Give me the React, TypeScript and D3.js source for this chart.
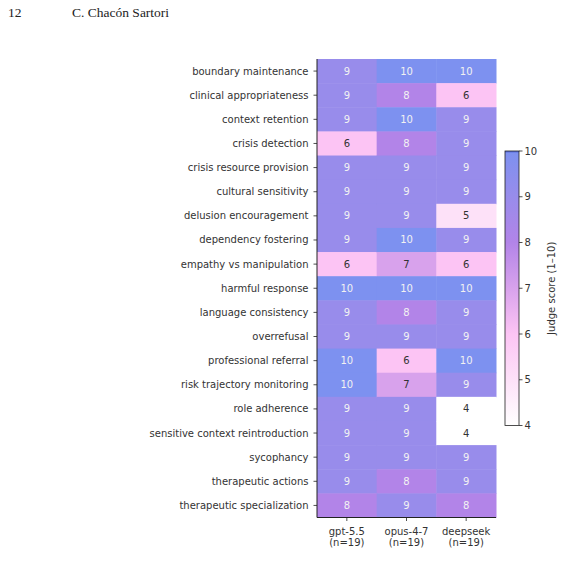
import * as d3 from "d3";

const categories = [
  "boundary maintenance",
  "clinical appropriateness",
  "context retention",
  "crisis detection",
  "crisis resource provision",
  "cultural sensitivity",
  "delusion encouragement",
  "dependency fostering",
  "empathy vs manipulation",
  "harmful response",
  "language consistency",
  "overrefusal",
  "professional referral",
  "risk trajectory monitoring",
  "role adherence",
  "sensitive context reintroduction",
  "sycophancy",
  "therapeutic actions",
  "therapeutic specialization",
];

const models = ["gpt-5.5", "opus-4-7", "deepseek"];
const sampleSizes = [19, 19, 19];

const gptScores = [9, 9, 9, 6, 9, 9, 9, 9, 6, 10, 9, 9, 10, 10, 9, 9, 9, 9, 8];
const opusScores = [10, 8, 10, 8, 9, 9, 9, 10, 7, 10, 8, 9, 6, 7, 9, 9, 9, 8, 9];
const deepseekScores = [10, 6, 9, 9, 9, 9, 5, 9, 6, 10, 9, 9, 10, 9, 4, 4, 9, 9, 8];

const colorbarTicks = [4, 5, 6, 7, 8, 9, 10];

const W = 563;
const H = 586;

// grid placement, measured off the page
const left = 317;
const right = 496;
const top = 59;
const bottom = 517.5;

const stopValues = [4, 5, 6, 7, 8, 9, 10];
const stopColors = ["#ffffff", "#fde1f8", "#fcc4f4", "#d8a2ec", "#b284e8", "#988ceb", "#7d91f0"];

const color = d3
  .scaleLinear<string>()
  .domain(stopValues)
  .range(stopColors)
  .interpolate(d3.interpolateRgb);

const x = d3.scaleBand<string>().domain(models).range([left, right]);
const y = d3.scaleBand<string>().domain(categories).range([top, bottom]);

const cbLeft = 505;
const cbRight = 519;
const cb = d3.scaleLinear().domain([4, 10]).range([425.5, 151]);

const font = "'DejaVu Sans', sans-serif";
const textColor = "#333";
const fs = 10;

export default function App() {
  const series = [gptScores, opusScores, deepseekScores];
  const cells = series.flatMap((vals, i) =>
    vals.map((v, j) => ({ model: models[i], cat: categories[j], v }))
  );

  return (
    <svg
      width={W}
      height={H}
      viewBox={`0 0 ${W} ${H}`}
      style={{ position: "absolute", left: 0, top: 0, background: "#fff" }}
    >
      <defs>
        <linearGradient id="cbar" x1="0" y1="1" x2="0" y2="0">
          {stopValues.map((v, i) => (
            <stop key={v} offset={(v - 4) / 6} stopColor={stopColors[i]} />
          ))}
        </linearGradient>
      </defs>

      {/* page header */}
      <text x={8} y={17} fontFamily="'Liberation Serif', serif" fontSize={13.5} fill="#222">
        12
      </text>
      <text x={72} y={17} fontFamily="'Liberation Serif', serif" fontSize={13.5} fill="#222">
        C. Chacón Sartori
      </text>

      {cells.map((c) => (
        <g key={c.model + c.cat}>
          <rect
            x={x(c.model)}
            y={y(c.cat)}
            width={x.bandwidth() + 0.5}
            height={y.bandwidth() + 0.5}
            fill={color(c.v)}
          />
          <text
            x={(x(c.model) ?? 0) + x.bandwidth() / 2}
            y={(y(c.cat) ?? 0) + y.bandwidth() / 2}
            dy="0.35em"
            textAnchor="middle"
            fontFamily={font}
            fontSize={fs}
            fill={c.v >= 8 ? "#f2f2f2" : textColor}
          >
            {c.v}
          </text>
        </g>
      ))}

      {/* axes spines */}
      <line x1={left} x2={left} y1={top} y2={bottom} stroke="#222" strokeWidth={1} />
      <line x1={left} x2={right} y1={bottom} y2={bottom} stroke="#222" strokeWidth={1} />

      {categories.map((c) => {
        const cy = (y(c) ?? 0) + y.bandwidth() / 2;
        return (
          <g key={c}>
            <line x1={left - 3.5} x2={left} y1={cy} y2={cy} stroke="#222" strokeWidth={0.8} />
            <text
              x={left - 8.5}
              y={cy}
              dy="0.35em"
              textAnchor="end"
              fontFamily={font}
              fontSize={fs}
              fill={textColor}
            >
              {c}
            </text>
          </g>
        );
      })}

      {models.map((m, i) => {
        const cx = (x(m) ?? 0) + x.bandwidth() / 2;
        return (
          <g key={m}>
            <line x1={cx} x2={cx} y1={bottom} y2={bottom + 3.5} stroke="#222" strokeWidth={0.8} />
            <text x={cx} y={bottom + 17} textAnchor="middle" fontFamily={font} fontSize={fs} fill={textColor}>
              {m}
            </text>
            <text x={cx} y={bottom + 28.5} textAnchor="middle" fontFamily={font} fontSize={fs} fill={textColor}>
              (n={sampleSizes[i]})
            </text>
          </g>
        );
      })}

      {/* colorbar */}
      <rect
        x={cbLeft}
        y={cb(10)}
        width={cbRight - cbLeft}
        height={cb(4) - cb(10)}
        fill="url(#cbar)"
      />
      <rect x={cbLeft} y={cb(10)} width={cbRight - cbLeft} height={1.5} fill="#5d70e0" />
      <rect
        x={cbLeft}
        y={cb(10)}
        width={cbRight - cbLeft}
        height={cb(4) - cb(10)}
        fill="none"
        stroke="#222"
        strokeWidth={0.8}
      />
      {colorbarTicks.map((t) => (
        <g key={t}>
          <line x1={cbRight} x2={cbRight + 3.5} y1={cb(t)} y2={cb(t)} stroke="#222" strokeWidth={0.8} />
          <text
            x={cbRight + 5.5}
            y={cb(t)}
            dy="0.35em"
            fontFamily={font}
            fontSize={fs}
            fill={textColor}
          >
            {t}
          </text>
        </g>
      ))}
      <text
        transform={`translate(551,${(cb(4) + cb(10)) / 2}) rotate(-90)`}
        textAnchor="middle"
        dy="0.35em"
        fontFamily={font}
        fontSize={fs}
        fill={textColor}
      >
        Judge score (1–10)
      </text>
    </svg>
  );
}
